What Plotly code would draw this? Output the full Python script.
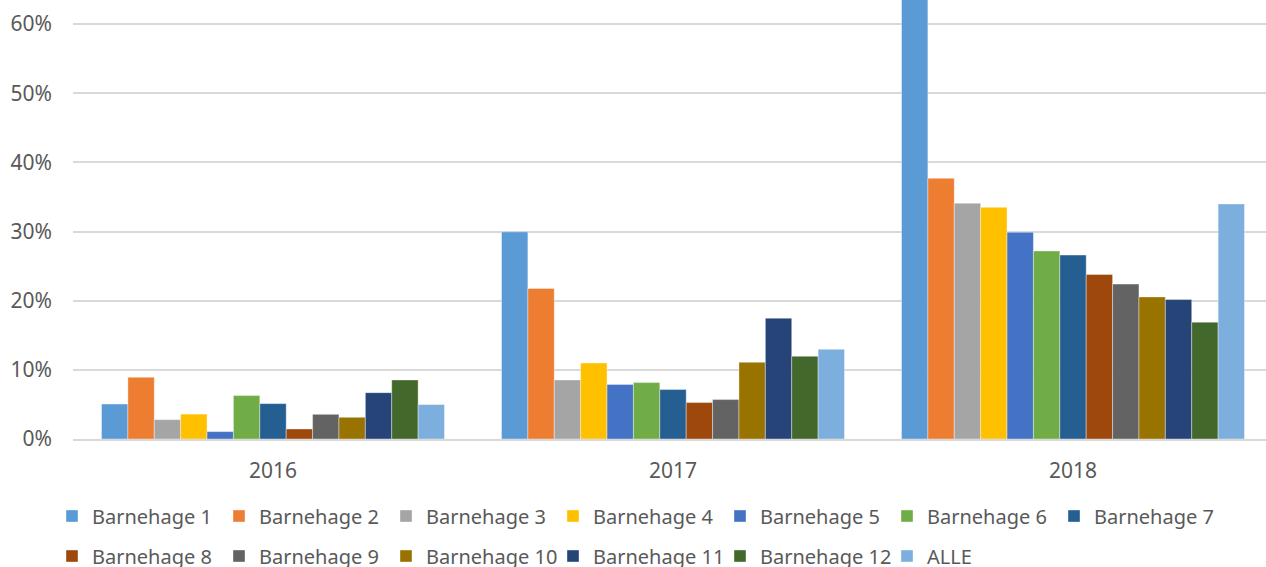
import plotly.graph_objects as go

years = ["2016", "2017", "2018"]
series_names = ["Barnehage 1", "Barnehage 2", "Barnehage 3", "Barnehage 4", "Barnehage 5",
                "Barnehage 6", "Barnehage 7", "Barnehage 8", "Barnehage 9", "Barnehage 10",
                "Barnehage 11", "Barnehage 12", "ALLE"]
colors = ["#5B9BD5", "#ED7D31", "#A5A5A5", "#FFC000", "#4472C4", "#70AD47", "#255E91",
          "#9E480E", "#636363", "#997300", "#264478", "#43682B", "#7CAFDD"]

barnehage_1 = [0.0506, 0.2996, 0.68]
barnehage_2 = [0.0893, 0.2177, 0.377]
barnehage_3 = [0.028, 0.0854, 0.341]
barnehage_4 = [0.036, 0.110, 0.335]
barnehage_5 = [0.0107, 0.079, 0.299]
barnehage_6 = [0.0628, 0.0816, 0.272]
barnehage_7 = [0.0512, 0.0715, 0.266]
barnehage_8 = [0.0145, 0.0527, 0.238]
barnehage_9 = [0.0357, 0.057, 0.224]
barnehage_10 = [0.0314, 0.111, 0.2055]
barnehage_11 = [0.067, 0.1747, 0.2017]
barnehage_12 = [0.0854, 0.1197, 0.169]
alle = [0.0498, 0.1298, 0.340]

values = [barnehage_1, barnehage_2, barnehage_3, barnehage_4, barnehage_5, barnehage_6,
          barnehage_7, barnehage_8, barnehage_9, barnehage_10, barnehage_11, barnehage_12, alle]

FONT = "Noto Sans, Open Sans, sans-serif"
GRAY = "#595959"

fig = go.Figure()
for i, (name, vals, col) in enumerate(zip(series_names, values, colors)):
    fig.add_trace(go.Bar(
        x=years, y=vals, name=name,
        marker=dict(color=col, line=dict(color="rgba(255,255,255,0.55)", width=0.7)),
        legend="legend" if i < 7 else "legend2",
        hoverinfo="name+y",
    ))

W, H = 1266, 567
fig.update_layout(
    width=W, height=H,
    barmode="group", bargap=0.1425, bargroupgap=0,
    plot_bgcolor="white", paper_bgcolor="white",
    margin=dict(l=73, r=0, t=0, b=128),
    font=dict(family=FONT, size=21, color=GRAY),
    legend=dict(orientation="h", xref="container", yref="container",
                x=52 / W, y=1 - 516 / H, xanchor="left", yanchor="middle",
                entrywidth=122, entrywidthmode="pixels",
                font=dict(family=FONT, size=20, color=GRAY), bgcolor="rgba(0,0,0,0)"),
    legend2=dict(orientation="h", xref="container", yref="container",
                 x=52 / W, y=1 - 556 / H, xanchor="left", yanchor="middle",
                 entrywidth=122, entrywidthmode="pixels",
                 font=dict(family=FONT, size=20, color=GRAY), bgcolor="rgba(0,0,0,0)"),
    showlegend=True,
)
fig.update_xaxes(type="category", range=[-0.5, 2.4825], showgrid=False, automargin=False,
                 showline=True, linecolor="#D9D9D9", linewidth=1.5,
                 ticks="", ticklabelstandoff=12,
                 tickfont=dict(family=FONT, size=21, color=GRAY))
fig.update_yaxes(range=[0, 0.6349], tickvals=[0, 0.1, 0.2, 0.3, 0.4, 0.5, 0.6], automargin=False,
                 tickformat=".0%", showgrid=True, gridcolor="#D9D9D9", gridwidth=1.5,
                 zeroline=False, ticks="", ticklabelstandoff=20,
                 tickfont=dict(family=FONT, size=21, color=GRAY))

fig.write_html("out.html", config={"displayModeBar": False},
               post_script="document.body.style.margin='0';")
